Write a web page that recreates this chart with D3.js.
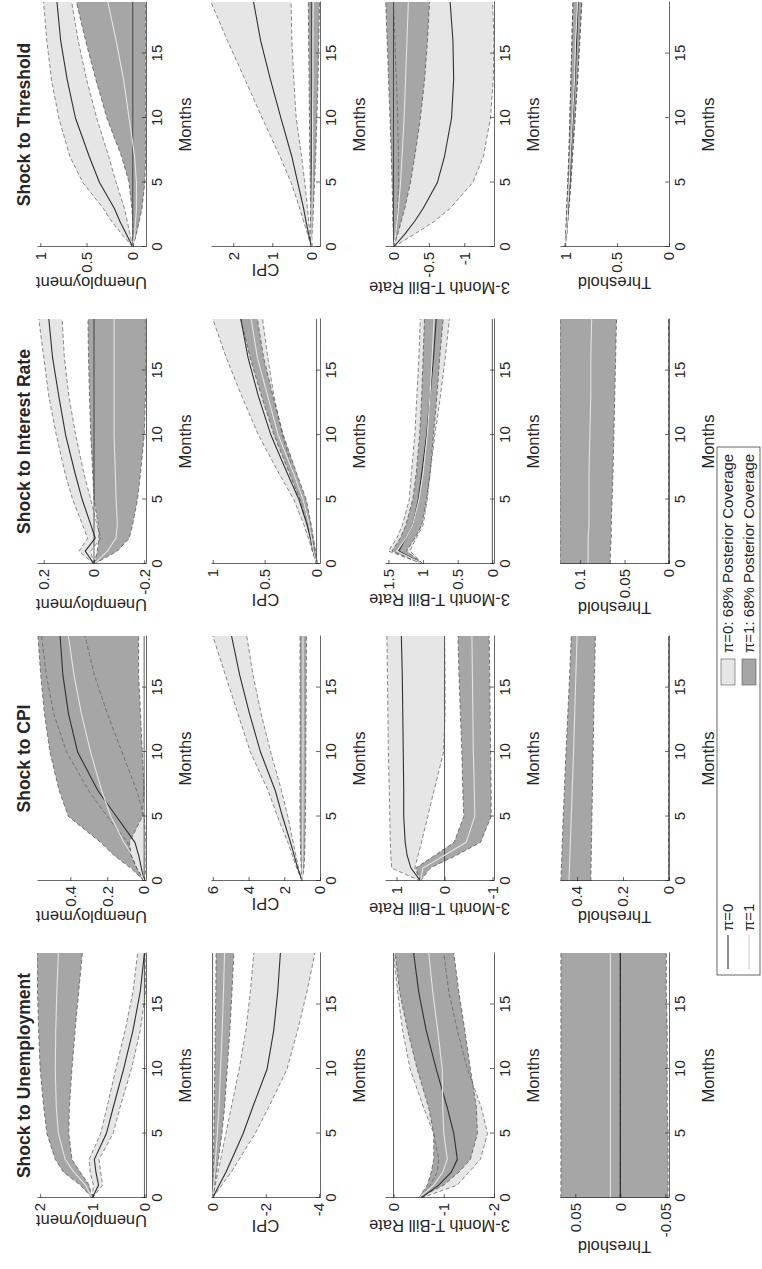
<!DOCTYPE html>
<html>
<head>
<meta charset="utf-8">
<script src="https://cdn.jsdelivr.net/npm/d3@7"></script>
<style>
  body { margin: 0; background: #fff; }
  text { font-family: "Liberation Sans", Arial, Helvetica, sans-serif; fill: #262626; }
</style>
</head>
<body>
<script>
var months = [0, 1, 2, 3, 5, 7, 10, 13, 16, 19];

var shocks = ["Shock to Unemployment", "Shock to CPI", "Shock to Interest Rate", "Shock to Threshold"];
var responses = ["Unemployment", "CPI", "3-Month T-Bill Rate", "Threshold"];
var monthTicks = [0, 5, 10, 15];

// each panel: [lo0, med0, hi0, lo1, med1, hi1]  (pi=0 band/median, pi=1 band/median)
var uU = [
  [1, 0.80, 0.84, 0.87, 0.60, 0.47, 0.25, 0.08, -0.02, -0.03],
  [1, 0.88, 0.93, 0.96, 0.73, 0.60, 0.40, 0.22, 0.08, 0.00],
  [1, 0.98, 1.04, 1.06, 0.84, 0.72, 0.55, 0.37, 0.22, 0.13],
  [1, 1.06, 1.23, 1.39, 1.45, 1.44, 1.39, 1.33, 1.26, 1.19],
  [1, 1.13, 1.35, 1.52, 1.65, 1.69, 1.71, 1.70, 1.68, 1.65],
  [1, 1.23, 1.55, 1.71, 1.87, 1.93, 2.00, 2.03, 2.05, 2.06]
];
var uC = [
  [0, -0.35, -0.7, -1.0, -1.6, -2.1, -2.8, -3.2, -3.55, -3.85],
  [0, -0.25, -0.5, -0.72, -1.15, -1.5, -2.05, -2.3, -2.45, -2.55],
  [0, -0.1, -0.2, -0.3, -0.5, -0.7, -1.0, -1.25, -1.42, -1.55],
  [0, -0.08, -0.15, -0.22, -0.35, -0.45, -0.55, -0.65, -0.73, -0.8],
  [0, -0.04, -0.08, -0.11, -0.18, -0.24, -0.3, -0.36, -0.41, -0.45],
  [0, -0.01, -0.02, -0.03, -0.05, -0.06, -0.08, -0.1, -0.12, -0.13]
];
var uR = [
  [-0.55, -1.27, -1.5, -1.73, -1.87, -1.75, -1.47, -1.27, -1.1, -1.0],
  [-0.55, -0.9, -1.15, -1.27, -1.2, -1.07, -0.85, -0.65, -0.5, -0.4],
  [-0.55, -0.73, -0.87, -0.9, -0.8, -0.6, -0.33, -0.18, -0.08, 0.0],
  [-0.5, -1.0, -1.3, -1.53, -1.67, -1.65, -1.53, -1.42, -1.3, -1.2],
  [-0.5, -0.8, -0.98, -1.07, -1.0, -0.98, -0.97, -0.88, -0.78, -0.7],
  [-0.5, -0.67, -0.75, -0.8, -0.8, -0.7, -0.47, -0.28, -0.12, -0.03]
];
var uT = [
  [0, 0, 0, 0, 0, 0, 0, 0, 0, 0],
  [0, 0, 0, 0, 0, 0, 0, 0, 0, 0],
  [0, 0, 0, 0, 0, 0, 0, 0, 0, 0],
  [-0.053, -0.053, -0.053, -0.053, -0.053, -0.052, -0.052, -0.052, -0.051, -0.051],
  [0.011, 0.011, 0.011, 0.011, 0.011, 0.011, 0.011, 0.011, 0.011, 0.011],
  [0.066, 0.066, 0.066, 0.066, 0.066, 0.066, 0.066, 0.066, 0.066, 0.066]
];
var cU = [
  [0, -0.01, -0.01, -0.01, 0.0, 0.04, 0.12, 0.2, 0.27, 0.32],
  [0, 0.015, 0.03, 0.05, 0.15, 0.25, 0.36, 0.41, 0.44, 0.455],
  [0, 0.04, 0.07, 0.09, 0.2, 0.3, 0.42, 0.49, 0.53, 0.555],
  [0, 0.04, 0.07, 0.08, 0.01, 0.0, 0.01, 0.02, 0.03, 0.03],
  [0, 0.027, 0.064, 0.11, 0.18, 0.23, 0.29, 0.34, 0.38, 0.41],
  [0, 0.073, 0.164, 0.236, 0.41, 0.46, 0.51, 0.54, 0.56, 0.575]
];
var cC = [
  [1, 1.2, 1.35, 1.5, 1.8, 2.15, 2.76, 3.3, 3.75, 4.1],
  [1, 1.25, 1.45, 1.65, 2.1, 2.5, 3.33, 3.95, 4.5, 4.95],
  [1, 1.3, 1.55, 1.8, 2.38, 2.9, 3.9, 4.6, 5.3, 6.0],
  [1, 0.9, 0.86, 0.84, 0.82, 0.8, 0.79, 0.78, 0.77, 0.76],
  [1, 0.98, 0.97, 0.97, 0.96, 0.96, 0.95, 0.95, 0.95, 0.95],
  [1, 1.05, 1.08, 1.1, 1.12, 1.12, 1.12, 1.12, 1.12, 1.12]
];
var cR = [
  [0.5, 0.62, 0.55, 0.48, 0.35, 0.22, 0.02, -0.01, -0.01, 0.0],
  [0.5, 0.7, 0.78, 0.82, 0.85, 0.85, 0.86, 0.87, 0.88, 0.9],
  [0.5, 1.1, 1.12, 1.13, 1.14, 1.15, 1.17, 1.18, 1.19, 1.2],
  [0.5, 0.3, -0.25, -0.75, -0.97, -0.97, -0.96, -0.95, -0.94, -0.93],
  [0.5, 0.45, 0.0, -0.45, -0.63, -0.62, -0.6, -0.59, -0.58, -0.57],
  [0.5, 0.6, 0.2, -0.2, -0.4, -0.38, -0.36, -0.33, -0.3, -0.28]
];
var cT = [
  [0, 0, 0, 0, 0, 0, 0, 0, 0, 0],
  [0, 0, 0, 0, 0, 0, 0, 0, 0, 0],
  [0, 0, 0, 0, 0, 0, 0, 0, 0, 0],
  [0.34, 0.339, 0.338, 0.337, 0.335, 0.333, 0.33, 0.327, 0.324, 0.32],
  [0.435, 0.433, 0.431, 0.429, 0.425, 0.421, 0.415, 0.41, 0.405, 0.40],
  [0.47, 0.468, 0.466, 0.464, 0.46, 0.455, 0.448, 0.44, 0.432, 0.425]
];
var iU = [
  [0, 0.013, -0.027, -0.013, 0.013, 0.04, 0.073, 0.1, 0.118, 0.127],
  [0, 0.035, -0.005, 0.012, 0.047, 0.075, 0.113, 0.14, 0.165, 0.18],
  [0, 0.06, 0.025, 0.045, 0.085, 0.115, 0.15, 0.18, 0.2, 0.22],
  [0, -0.093, -0.14, -0.153, -0.173, -0.185, -0.2, -0.205, -0.207, -0.207],
  [0, -0.053, -0.087, -0.093, -0.088, -0.085, -0.08, -0.08, -0.08, -0.08],
  [0, -0.013, -0.02, -0.017, 0.0, 0.005, 0.013, 0.018, 0.022, 0.024]
];
var iC = [
  [0, 0.02, 0.04, 0.07, 0.13, 0.22, 0.33, 0.41, 0.47, 0.52],
  [0, 0.03, 0.06, 0.09, 0.17, 0.28, 0.44, 0.56, 0.66, 0.73],
  [0, 0.04, 0.08, 0.12, 0.22, 0.36, 0.56, 0.72, 0.87, 1.0],
  [0, 0.01, 0.03, 0.05, 0.1, 0.19, 0.32, 0.42, 0.51, 0.57],
  [0, 0.03, 0.05, 0.07, 0.13, 0.22, 0.37, 0.47, 0.57, 0.63],
  [0, 0.04, 0.06, 0.09, 0.16, 0.26, 0.41, 0.53, 0.64, 0.73]
];
var iR = [
  [1.0, 1.19, 1.1, 1.0, 0.94, 0.9, 0.83, 0.75, 0.68, 0.62],
  [1.0, 1.35, 1.25, 1.15, 1.07, 1.02, 0.95, 0.9, 0.85, 0.81],
  [1.0, 1.5, 1.38, 1.3, 1.2, 1.17, 1.12, 1.09, 1.06, 1.04],
  [1.0, 1.24, 1.12, 1.02, 0.95, 0.9, 0.85, 0.8, 0.76, 0.71],
  [1.0, 1.38, 1.25, 1.15, 1.06, 1.0, 0.94, 0.9, 0.87, 0.84],
  [1.0, 1.45, 1.33, 1.25, 1.15, 1.1, 1.05, 1.02, 1.0, 0.98]
];
var iT = [
  [0, 0, 0, 0, 0, 0, 0, 0, 0, 0],
  [0, 0, 0, 0, 0, 0, 0, 0, 0, 0],
  [0, 0, 0, 0, 0, 0, 0, 0, 0, 0],
  [0.066, 0.066, 0.065, 0.065, 0.064, 0.063, 0.062, 0.061, 0.06, 0.059],
  [0.091, 0.091, 0.091, 0.09, 0.09, 0.09, 0.089, 0.088, 0.088, 0.087],
  [0.1225, 0.1225, 0.1225, 0.1225, 0.1225, 0.1225, 0.1225, 0.1225, 0.1225, 0.1225]
];
var tU = [
  [0, 0.03, 0.06, 0.09, 0.18, 0.26, 0.39, 0.5, 0.59, 0.66],
  [0, 0.07, 0.14, 0.2, 0.36, 0.47, 0.62, 0.71, 0.78, 0.82],
  [0, 0.12, 0.23, 0.32, 0.54, 0.68, 0.8, 0.88, 0.93, 0.965],
  [0, -0.04, -0.07, -0.1, -0.13, -0.14, -0.14, -0.14, -0.14, -0.14],
  [0, -0.02, -0.03, -0.04, -0.04, -0.02, 0.04, 0.1, 0.18, 0.27],
  [0, 0.0, 0.0, 0.01, 0.04, 0.12, 0.28, 0.4, 0.51, 0.61]
];
var tC = [
  [0, 0.03, 0.07, 0.1, 0.17, 0.25, 0.39, 0.45, 0.5, 0.52],
  [0, 0.07, 0.14, 0.2, 0.35, 0.5, 0.78, 1.05, 1.3, 1.48],
  [0, 0.1, 0.2, 0.3, 0.52, 0.8, 1.26, 1.7, 2.15, 2.57],
  [0, -0.02, -0.04, -0.05, -0.08, -0.11, -0.14, -0.17, -0.19, -0.21],
  [0, -0.01, -0.01, -0.01, -0.02, -0.03, -0.03, -0.04, -0.04, -0.05],
  [0, 0.01, 0.02, 0.02, 0.03, 0.04, 0.05, 0.06, 0.07, 0.08]
];
var tR = [
  [0, -0.3, -0.58, -0.8, -1.12, -1.27, -1.37, -1.41, -1.42, -1.4],
  [0, -0.16, -0.3, -0.42, -0.62, -0.72, -0.82, -0.85, -0.84, -0.8],
  [0, -0.03, -0.05, -0.06, -0.07, -0.07, -0.06, -0.04, -0.02, 0.0],
  [0, -0.06, -0.11, -0.16, -0.24, -0.3, -0.38, -0.44, -0.48, -0.51],
  [0, -0.03, -0.05, -0.07, -0.1, -0.12, -0.15, -0.17, -0.19, -0.21],
  [0, 0.0, 0.01, 0.01, 0.02, 0.03, 0.05, 0.07, 0.09, 0.11]
];
var tT = [
  [1, 0.985, 0.975, 0.965, 0.945, 0.93, 0.905, 0.88, 0.86, 0.84],
  [1, 0.99, 0.98, 0.97, 0.955, 0.945, 0.925, 0.905, 0.89, 0.875],
  [1, 0.995, 0.99, 0.985, 0.975, 0.965, 0.955, 0.945, 0.935, 0.925],
  [1, 0.985, 0.975, 0.965, 0.945, 0.93, 0.905, 0.88, 0.86, 0.84],
  [1, 0.99, 0.98, 0.975, 0.96, 0.95, 0.93, 0.91, 0.9, 0.88],
  [1, 0.995, 0.99, 0.985, 0.975, 0.965, 0.955, 0.945, 0.935, 0.925]
];

// y limits and y ticks, [shock][response]
var yDomains = [
  [[-0.03, 2.06], [-4.04, 0.06], [-2.0, 0.17], [-0.054, 0.067]],
  [[-0.01, 0.58], [0, 6.1], [-1.03, 1.24], [0, 0.474]],
  [[-0.207, 0.227], [-0.033, 1.017], [-0.024, 1.55], [0, 0.1226]],
  [[-0.143, 1.036], [-0.22, 2.57], [-1.42, 0.12], [0, 1.05]]
];
var yTicks = [
  [[0, 1, 2], [-4, -2, 0], [-2, -1, 0], [-0.05, 0, 0.05]],
  [[0, 0.2, 0.4], [0, 2, 4, 6], [-1, 0, 1], [0, 0.2, 0.4]],
  [[-0.2, 0, 0.2], [0, 0.5, 1], [0, 0.5, 1, 1.5], [0, 0.05, 0.1]],
  [[0, 0.5, 1], [0, 1, 2], [-1, -0.5, 0], [0, 0.5, 1]]
];

var panels = [
  [uU, uC, uR, uT],
  [cU, cC, cR, cT],
  [iU, iC, iR, iT],
  [tU, tC, tR, tT]
];

// the figure is laid out in landscape and turned a quarter turn onto the portrait page
var figW = 1269;
var svg = d3.select("body").append("svg")
    .attr("width", 762)
    .attr("height", 1269);
var fig = svg.append("g")
    .attr("transform", "translate(0," + figW + ") rotate(-90)");

var plotW = 245, plotH = 109;
var colX = [71, 388, 705, 1022];
var rowY = [37, 211, 385, 560];

var lightFill = "#e6e6e6", darkFill = "#a6a6a6";

var x = d3.scaleLinear().domain([0, 19]).range([0, plotW]);

panels.forEach(function(col, c) {
  col.forEach(function(p, r) {
    var g = fig.append("g")
        .attr("transform", "translate(" + colX[c] + "," + rowY[r] + ")");
    var y = d3.scaleLinear().domain(yDomains[c][r]).range([plotH, 0]);

    var clipId = "clip" + c + r;
    g.append("clipPath").attr("id", clipId)
      .append("rect").attr("width", plotW).attr("height", plotH);
    var plot = g.append("g").attr("clip-path", "url(#" + clipId + ")");

    var band = function(lo, hi) {
      return d3.area()
          .x(function(d, i) { return x(months[i]); })
          .y0(function(d, i) { return y(lo[i]); })
          .y1(function(d, i) { return y(hi[i]); });
    };
    var line = d3.line()
        .x(function(d, i) { return x(months[i]); })
        .y(function(d) { return y(d); });

    // pi=0 band, then pi=1 band
    plot.append("path").datum(months)
        .attr("d", band(p[0], p[2]))
        .style("fill", lightFill);
    plot.append("path").datum(months)
        .attr("d", band(p[3], p[5]))
        .style("fill", darkFill);

    // zero line
    var dom = yDomains[c][r];
    if (dom[0] < 0 && dom[1] > 0) {
      plot.append("line")
          .attr("x1", 0).attr("x2", plotW)
          .attr("y1", y(0)).attr("y2", y(0))
          .style("stroke", "#1a1a1a").style("stroke-width", 0.7);
    }

    // band edges (dashed)
    [p[0], p[2]].forEach(function(s) {
      plot.append("path").datum(s).attr("d", line)
          .style("fill", "none").style("stroke", "#5a5a5a")
          .style("stroke-width", 0.7).style("stroke-dasharray", "4,2.5");
    });
    [p[3], p[5]].forEach(function(s) {
      plot.append("path").datum(s).attr("d", line)
          .style("fill", "none").style("stroke", "#4a4a4a")
          .style("stroke-width", 0.7).style("stroke-dasharray", "4,2.5");
    });

    // medians
    plot.append("path").datum(p[1]).attr("d", line)
        .style("fill", "none").style("stroke", "#303030").style("stroke-width", 1.1);
    plot.append("path").datum(p[4]).attr("d", line)
        .style("fill", "none").style("stroke", "#e4e4e4").style("stroke-width", 1.1);

    // axes (left and bottom only, ticks pointing in)
    var yAxis = g.append("g")
        .call(d3.axisLeft(y).tickValues(yTicks[c][r])
          .tickSizeInner(-4).tickSizeOuter(0).tickPadding(5)
          .tickFormat(function(d) { return String(d); }));
    var xAxis = g.append("g")
        .attr("transform", "translate(0," + plotH + ")")
        .call(d3.axisBottom(x).tickValues(monthTicks)
          .tickSizeInner(-4).tickSizeOuter(0).tickPadding(5));
    [yAxis, xAxis].forEach(function(a) {
      a.select(".domain").style("stroke", "#262626").style("stroke-width", 0.7);
      a.selectAll(".tick line").style("stroke", "#262626").style("stroke-width", 0.7);
      a.selectAll("text").style("font-size", "15px").style("fill", "#262626");
    });

    // y label, just left of the tick labels
    var bb = yAxis.node().getBBox();
    g.append("text")
        .attr("transform", "translate(" + (bb.x - 4) + "," + (plotH / 2) + ") rotate(-90)")
        .attr("text-anchor", "middle")
        .style("font-size", "16.5px")
        .text(responses[r]);

    g.append("text")
        .attr("x", plotW / 2).attr("y", plotH + 45)
        .attr("text-anchor", "middle")
        .style("font-size", "16.5px")
        .text("Months");

    if (r === 0) {
      g.append("text")
          .attr("x", plotW / 2).attr("y", -7)
          .attr("text-anchor", "middle")
          .style("font-size", "17.5px").style("font-weight", "bold")
          .text(shocks[c]);
    }
  });
});

// legend
var legend = fig.append("g").attr("transform", "translate(294,717)");
legend.append("rect")
    .attr("width", 528).attr("height", 43)
    .style("fill", "#fff").style("stroke", "#262626").style("stroke-width", 0.7);

var legendRows = [
  { label: "\u03c0=0", band: "\u03c0=0: 68% Posterior Coverage", stroke: "#303030", fill: lightFill },
  { label: "\u03c0=1", band: "\u03c0=1: 68% Posterior Coverage", stroke: "#d0d0d0", fill: darkFill }
];
legendRows.forEach(function(d, i) {
  var cy = 11 + i * 21;
  legend.append("line")
      .attr("x1", 6).attr("x2", 40).attr("y1", cy).attr("y2", cy)
      .style("stroke", d.stroke).style("stroke-width", 1.1);
  legend.append("text")
      .attr("x", 44).attr("y", cy + 5)
      .style("font-size", "15px")
      .text(d.label);
  legend.append("rect")
      .attr("x", 290).attr("y", cy - 7).attr("width", 26).attr("height", 14)
      .style("fill", d.fill).style("stroke", "#555").style("stroke-width", 0.6);
  legend.append("text")
      .attr("x", 322).attr("y", cy + 5)
      .style("font-size", "15px")
      .text(d.band);
});
</script>
</body>
</html>
